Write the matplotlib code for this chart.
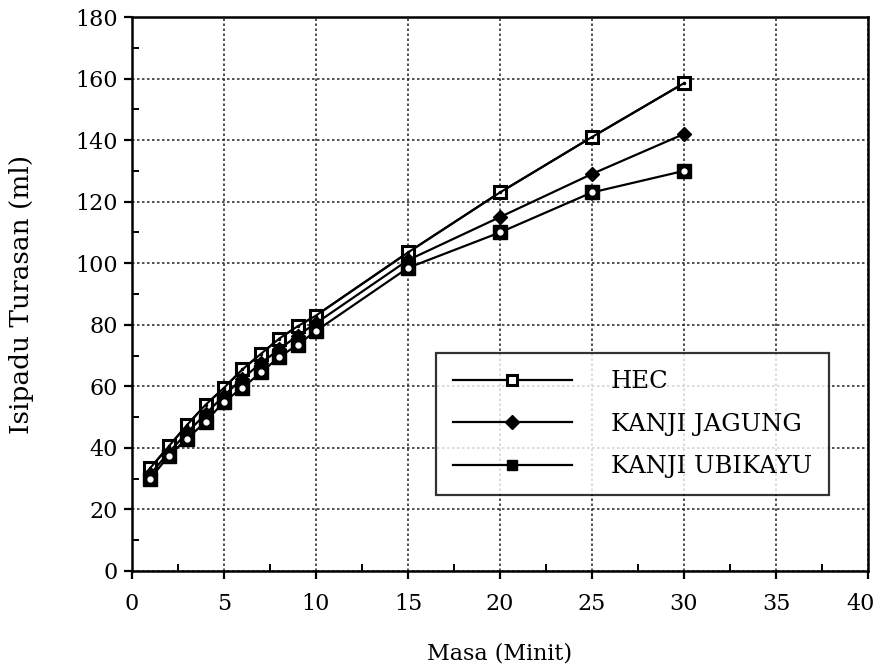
import matplotlib
matplotlib.use('Agg')
import matplotlib.pyplot as plt
from matplotlib.ticker import MultipleLocator, FuncFormatter

plt.rcParams['font.family'] = ['DejaVu Serif']

# masa (minit) dan isipadu turasan (ml)
masa = [1, 2, 3, 4, 5, 6, 7, 8, 9, 10, 15, 20, 25, 30]
hec = [33.5, 40.5, 47.5, 54, 59.5, 65.5, 70.5, 75.5, 79.5, 83, 103.5, 123, 141, 158.5]
kanji_jagung = [31.5, 38.5, 45, 51, 57, 62.5, 67.5, 72, 76.5, 80.5, 101, 115, 129, 142]
kanji_ubikayu = [30, 37.5, 43, 48.5, 55, 59.5, 64.5, 69.5, 73.5, 78, 98.5, 110, 123, 130]
labels = ['HEC', 'KANJI JAGUNG', 'KANJI UBIKAYU']
x_max = 40

fig = plt.figure(figsize=(8.78, 6.72), dpi=100)
ax = fig.add_axes([0.1503, 0.1503, 0.8383, 0.8244])

ax.plot(masa, hec, '-', color='black', lw=1.6, marker='s', ms=9,
        mfc='white', mec='black', mew=2.2, label=labels[0], zorder=4)
ax.plot(masa, hec, 'none', marker='.', ms=3, color='black', zorder=5)

ax.plot(masa, kanji_jagung, '-', color='black', lw=1.6, marker='D', ms=7,
        mfc='black', mec='black', label=labels[1], zorder=4)

ax.plot(masa, kanji_ubikayu, '-', color='black', lw=1.6, marker='s', ms=9.5,
        mfc='black', mec='black', label=labels[2], zorder=4)
ax.plot(masa, kanji_ubikayu, 'none', marker='o', ms=3.5, mfc='white', mec='white', zorder=5)

ax.set_xlim(0, x_max)
ax.set_ylim(0, 180)
ax.xaxis.set_major_locator(MultipleLocator(5))
ax.xaxis.set_minor_locator(MultipleLocator(2.5))
ax.yaxis.set_major_locator(MultipleLocator(20))
ax.yaxis.set_minor_locator(MultipleLocator(10))
# last x label is drawn by hand, nudged left so it stays inside the figure
ax.xaxis.set_major_formatter(FuncFormatter(lambda v, p: '' if v >= x_max else '%d' % v))
ax.tick_params(which='major', direction='out', length=6, width=1.6, labelsize=16)
ax.tick_params(which='minor', direction='in', length=5, width=1.4)
ax.tick_params(axis='x', pad=10)
ax.tick_params(axis='y', pad=4)
ax.annotate('%d' % x_max, xy=(x_max, 0), xycoords='data', xytext=(-5, -16),
            textcoords='offset points', ha='center', va='top', fontsize=16,
            annotation_clip=False)

for s in ax.spines.values():
    s.set_linewidth(1.8)

ax.grid(True, which='major', linestyle=(0, (1.5, 1.5)), color='#333333', lw=1.2)
ax.set_axisbelow(True)

ax.set_xlabel('Masa (Minit)', fontsize=16, labelpad=20)
ax.set_ylabel('Isipadu Turasan (ml)', fontsize=19, labelpad=30)

leg = ax.legend(loc='lower right', bbox_to_anchor=(0.947, 0.137), fontsize=17.5,
                frameon=True, fancybox=False, edgecolor='black', handlelength=4.9,
                handletextpad=1.6, labelspacing=0.8, borderpad=0.7, borderaxespad=0)
leg.get_frame().set_linewidth(1.6)
for h in leg.legend_handles:
    h.set_markersize(7)

fig.savefig('out.png', dpi=100)
